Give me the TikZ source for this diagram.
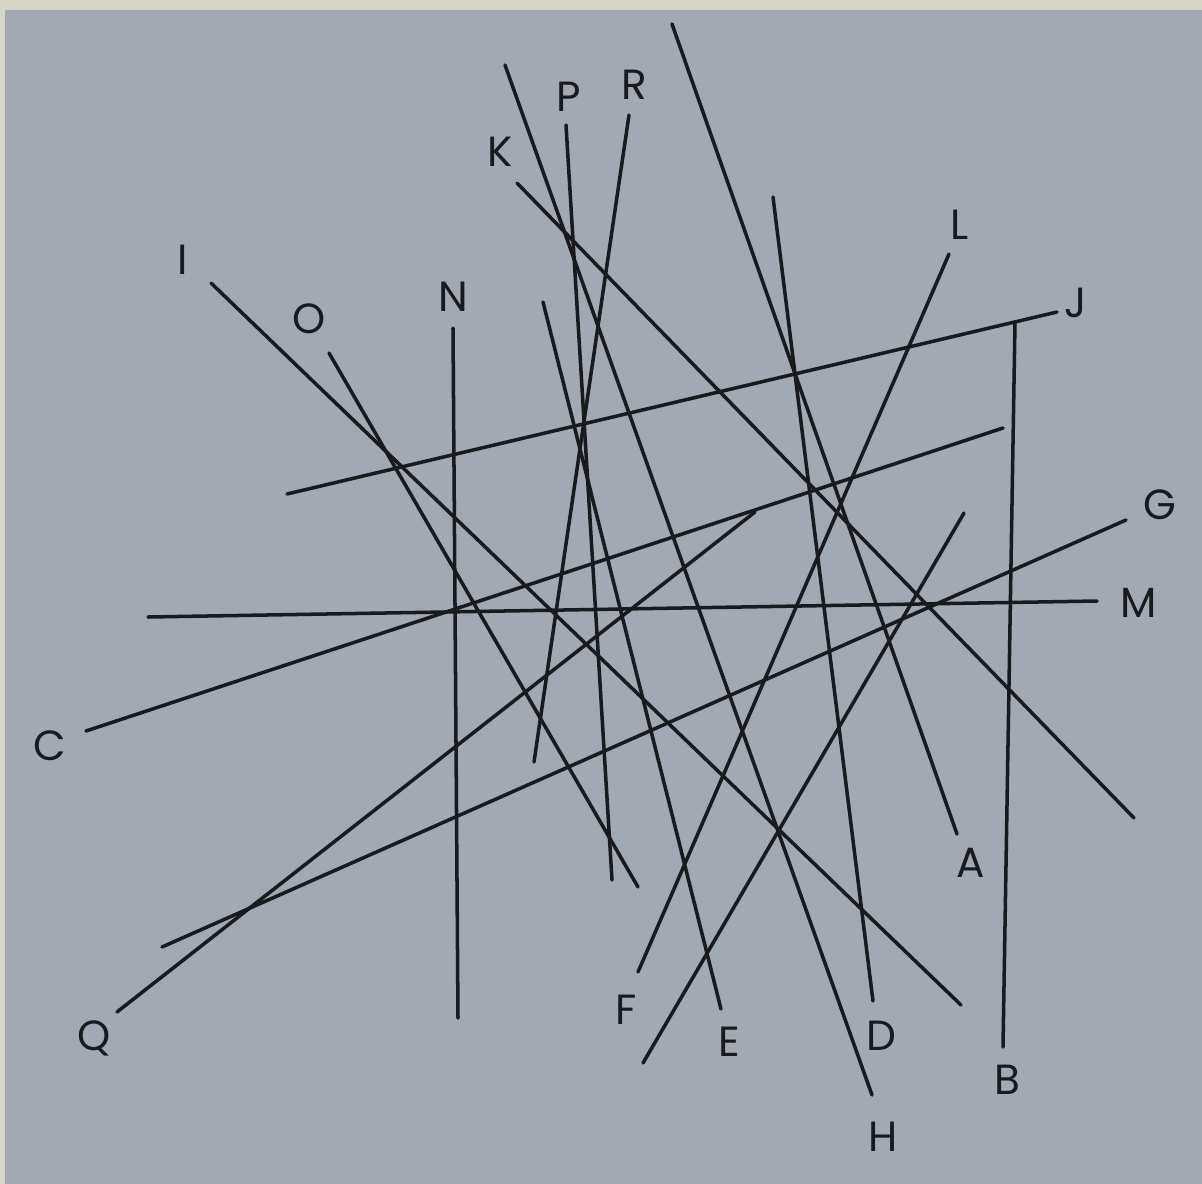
\documentclass[tikz,border=0pt]{standalone}
\usepackage{fontspec}
\setmainfont{Poppins}
\usepackage{tikz}
\definecolor{stpaper}{RGB}{162,169,179}
\definecolor{stedge}{RGB}{214,213,202}
\definecolor{stink}{RGB}{24,26,30}
\tikzset{
  stick/.style={draw=stink, line width=1pt, line cap=round},
  tag/.style={text=stink, font=\fontsize{12}{14}\selectfont, inner sep=0pt}
}
\begin{document}
\begin{tikzpicture}[x=0.01cm, y=-0.01cm]
  % paper
  \fill[stedge] (0,0) rectangle (1202,1184);
  \fill[stpaper] (5,10) rectangle (1202,1184);
  \useasboundingbox (0,0) rectangle (1202,1184);
  % stick ends
  \coordinate (a1) at (672,24);   \coordinate (a2) at (957,834);
  \coordinate (b1) at (1015,323); \coordinate (b2) at (1003,1047);
  \coordinate (c1) at (86,731);   \coordinate (c2) at (1003,428);
  \coordinate (d1) at (773,197);  \coordinate (d2) at (873,1001);
  \coordinate (e1) at (543,302);  \coordinate (e2) at (721,1009);
  \coordinate (f1) at (643,1063); \coordinate (f2) at (964,513);
  \coordinate (g1) at (162,947);  \coordinate (g2) at (1126,520);
  \coordinate (h1) at (505,65);   \coordinate (h2) at (872,1095);
  \coordinate (i1) at (211,283);  \coordinate (i2) at (961,1005);
  \coordinate (j1) at (287,494);  \coordinate (j2) at (1057,312);
  \coordinate (k1) at (517,183);  \coordinate (k2) at (1134,818);
  \coordinate (l1) at (949,254);  \coordinate (l2) at (638,972);
  \coordinate (m1) at (148,617);  \coordinate (m2) at (1097,601);
  \coordinate (n1) at (453,328);  \coordinate (n2) at (458,1018);
  \coordinate (o1) at (329,353);  \coordinate (o2) at (638,887);
  \coordinate (p1) at (566,125);  \coordinate (p2) at (612,880);
  \coordinate (q1) at (117,1012); \coordinate (q2) at (755,512);
  \coordinate (r1) at (629,115);  \coordinate (r2) at (534,762);
  % sticks
  \draw[stick] (a1) -- (a2);
  \draw[stick] (b1) -- (b2);
  \draw[stick] (c1) -- (c2);
  \draw[stick] (d1) -- (d2);
  \draw[stick] (e1) -- (e2);
  \draw[stick] (f1) -- (f2);
  \draw[stick] (g1) -- (g2);
  \draw[stick] (h1) -- (h2);
  \draw[stick] (i1) -- (i2);
  \draw[stick] (j1) -- (j2);
  \draw[stick] (k1) -- (k2);
  \draw[stick] (l1) -- (l2);
  \draw[stick] (m1) -- (m2);
  \draw[stick] (n1) -- (n2);
  \draw[stick] (o1) -- (o2);
  \draw[stick] (p1) -- (p2);
  \draw[stick] (q1) -- (q2);
  \draw[stick] (r1) -- (r2);
  % labels
  \node[tag] (la) at (971,863) {A};
  \node[tag] (lb) at (1007,1080) {B};
  \node[tag] (lc) at (50,746) {C};
  \node[tag] (ld) at (881,1036) {D};
  \node[tag] (le) at (729,1042) {E};
  \node[tag] (lf) at (626,1010) {F};
  \node[tag] (lg) at (1160,505) {G};
  \node[tag] (lh) at (883,1137) {H};
  \node[tag] (li) at (183,260) {I};
  \node[tag] (lj) at (1076,303) {J};
  \node[tag] (lk) at (500,152) {K};
  \node[tag] (ll) at (960,225) {L};
  \node[tag] (lm) at (1139,603) {M};
  \node[tag] (ln) at (453,297) {N};
  \node[tag] (lo) at (309,319) {O};
  \node[tag] (lp) at (569,97) {P};
  \node[tag] (lq) at (94,1038) {Q};
  \node[tag] (lr) at (634,85) {R};
\end{tikzpicture}
\end{document}
